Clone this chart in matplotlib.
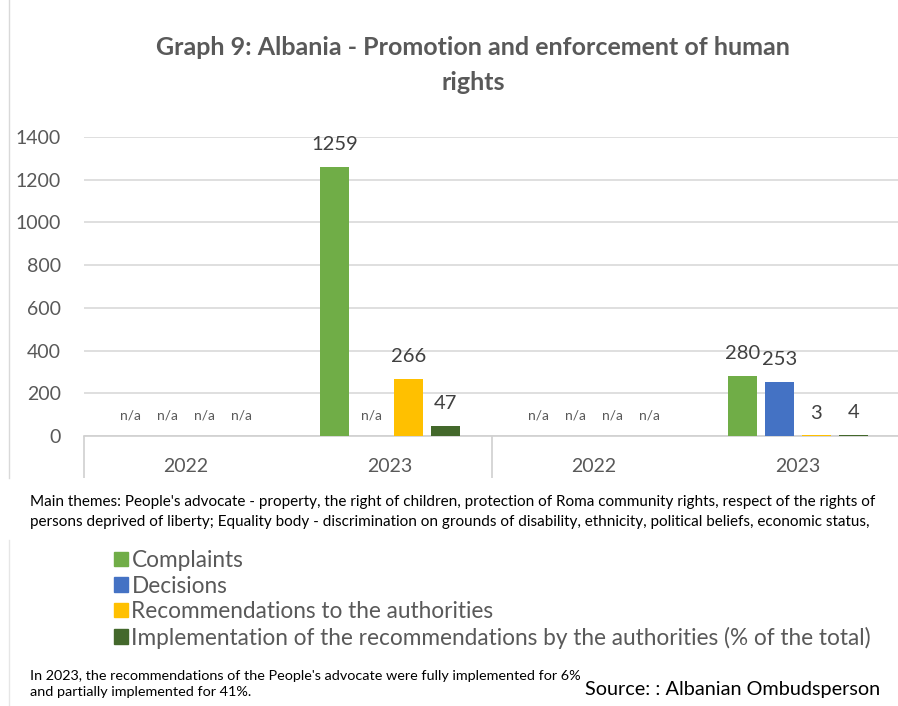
import numpy as np
import matplotlib.pyplot as plt
from matplotlib.patches import Patch
from matplotlib.lines import Line2D

plt.rcParams['font.family'] = ['Lato', 'DejaVu Sans']

# data (None = n/a)
categories = ['2022', '2023', '2022', '2023']
series_names = ['Complaints', 'Decisions', 'Recommendations to the authorities',
                'Implementation of the recommendations by the authorities (% of the total)']
complaints = [None, 1259, None, 280]
decisions = [None, None, None, 253]
recommendations = [None, 266, None, 3]
implementation = [None, 47, None, 4]
colors = ['#70AD47', '#4472C4', '#FFC000', '#43682B']

title = 'Graph 9: Albania - Promotion and enforcement of human\nrights'
note_lines = [
    "Main themes: People's advocate - property, the right of children, protection of Roma community rights, respect of the rights of",
    "persons deprived of liberty; Equality body - discrimination on grounds of disability, ethnicity, political beliefs, economic status,",
]
footnote = "In 2023, the recommendations of the People's advocate were fully implemented for 6%\nand partially implemented for 41%."
source = 'Source: : Albanian Ombudsperson'

grey = '#595959'
fig = plt.figure(figsize=(8.98, 7.06), dpi=100)
ax = fig.add_axes([84 / 898, 1 - 436 / 706, 816 / 898, 299 / 706])

x = np.arange(len(categories))
width = 0.142
step = 0.181
all_series = [complaints, decisions, recommendations, implementation]
for i, (vals, col) in enumerate(zip(all_series, colors)):
    off = (i - 1.5) * step
    for xi, v in zip(x, vals):
        if v is None:
            ax.annotate('n/a', (xi + off, 0), xytext=(0, 15), textcoords='offset points',
                        ha='center', va='center', fontsize=10, color=grey)
        else:
            ax.bar(xi + off, v, width=width, color=col, zorder=3)
            ax.annotate(str(v), (xi + off, v), xytext=(0, 16), textcoords='offset points',
                        ha='center', va='center', fontsize=14.5, color='#404040')

ax.set_xlim(-0.5, 3.5)
ax.set_ylim(0, 1400)
ax.set_yticks(range(0, 1401, 200))
ax.yaxis.grid(True, color='#D9D9D9', linewidth=1.2, zorder=0)
ax.set_axisbelow(True)
for s in ['top', 'right', 'left']:
    ax.spines[s].set_visible(False)
ax.spines['bottom'].set_color('#D0D0D0')
ax.spines['bottom'].set_linewidth(1.2)
ax.tick_params(axis='y', length=0, labelsize=14, labelcolor=grey, pad=16.5)
ax.set_xticks(x)
ax.set_xticklabels(categories)
ax.tick_params(axis='x', which='major', length=0, labelsize=14, labelcolor=grey, pad=16)
ax.set_xticks([-0.5, 1.5, 3.5], minor=True)
ax.tick_params(axis='x', which='minor', length=30, color='#D0D0D0', width=1.2)

fig.text(0.527, 1 - 65 / 706, title, ha='center', va='center', fontsize=18, fontweight='bold',
         color=grey, linespacing=1.6)

# chart frame line on the left
fig.add_artist(Line2D([9 / 898, 9 / 898], [1 - 478 / 706, 1], color='#D9D9D9', lw=1))
fig.add_artist(Line2D([9 / 898, 9 / 898], [0, 1 - 540 / 706], color='#E6E6E6', lw=1))

fig.text(30 / 898, 1 - 502 / 706, note_lines[0], ha='left', va='center', fontsize=11, color='black')
fig.text(30 / 898, 1 - 522 / 706, note_lines[1], ha='left', va='center', fontsize=11, color='black')

handles = [Patch(color=c) for c in colors]
fig.legend(handles, series_names, loc='upper left', bbox_to_anchor=(114 / 898, 1 - 550 / 706),
           frameon=False, fontsize=16.3, labelcolor=grey, handlelength=0.62, handleheight=0.62,
           handletextpad=0.15, labelspacing=0.2, borderpad=0, borderaxespad=0)

fig.text(30 / 898, 1 - 684 / 706, footnote, ha='left', va='center', fontsize=10.4, color='black',
         linespacing=1.45)
fig.text(880 / 898, 1 - 690 / 706, source, ha='right', va='center', fontsize=14.3, color='black')

fig.savefig('out.png', dpi=100)
